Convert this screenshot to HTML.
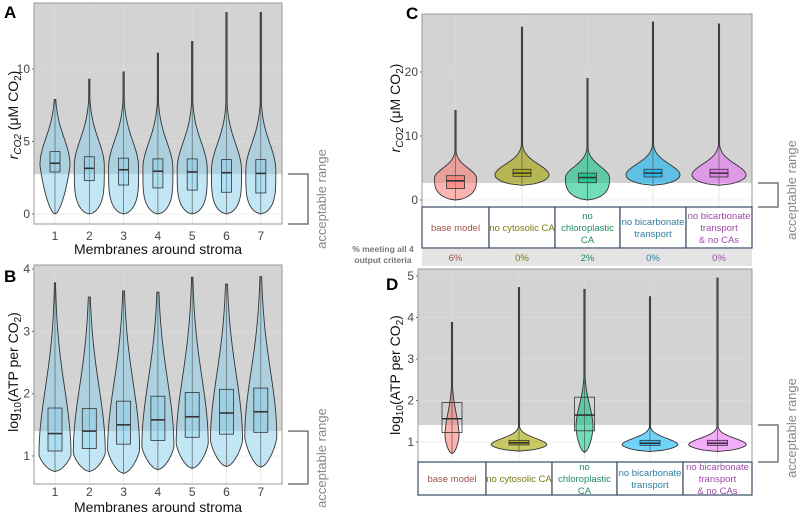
<!DOCTYPE html>
<html><head><meta charset="utf-8"><style>
html,body{margin:0;padding:0;background:#fff}
svg{display:block;font-family:"Liberation Sans",sans-serif}
</style></head><body>
<svg id="fig" width="800" height="516" viewBox="0 0 800 516" xmlns="http://www.w3.org/2000/svg"></svg>
<script>
// ---------- data ----------
// Panel A: r_CO2 by membranes
const aCats = ['1','2','3','4','5','6','7'];
const aMin = [0,0,0,0,0,0,0];
const aMax = [7.9,9.3,9.8,11.1,11.9,13.9,13.9];
const aQ1 = [2.9,2.3,2.0,1.8,1.65,1.5,1.45];
const aMed = [3.5,3.15,3.05,2.95,2.9,2.85,2.8];
const aQ3 = [4.3,3.95,3.85,3.8,3.8,3.75,3.75];
const aMode = [3.4,3.3,3.2,3.1,3.1,3.0,3.0];
const aTicks = [0,5,10];
// Panel B: log10 ATP per CO2 by membranes
const bMin = [0.75,0.75,0.72,0.78,0.8,0.83,0.82];
const bMax = [3.78,3.55,3.65,3.63,3.87,3.76,3.88];
const bQ1 = [1.08,1.12,1.19,1.25,1.3,1.35,1.38];
const bMed = [1.36,1.4,1.5,1.58,1.63,1.69,1.71];
const bQ3 = [1.77,1.76,1.88,1.96,2.02,2.07,2.09];
const bMode = [1.02,1.05,1.1,1.15,1.2,1.25,1.3];
const bTicks = [1,2,3,4];
// Panel C/D categories
const cCats = [['base model'],['no cytosolic CA'],['no','chloroplastic','CA'],['no bicarbonate','transport'],['no bicarbonate','transport','& no CAs']];
const cPct = ['6%','0%','2%','0%','0%'];
const cMin = [0,2.3,0,2.3,2.3];
const cMax = [14,27,19,27.8,27.5];
const cQ1 = [1.8,3.7,2.7,3.6,3.6];
const cMed = [3.0,4.2,3.5,4.2,4.2];
const cQ3 = [3.8,4.8,4.2,4.8,4.8];
const cMode = [3.4,3.9,3.5,3.9,3.9];
const cTicks = [0,10,20];
const dMin = [0.72,0.78,0.75,0.77,0.77];
const dMax = [3.88,4.72,4.68,4.5,4.95];
const dQ1 = [1.23,0.93,1.27,0.92,0.92];
const dMed = [1.56,0.98,1.65,0.97,0.97];
const dQ3 = [1.95,1.04,2.08,1.04,1.04];
const dMode = [1.15,0.93,1.35,0.93,0.93];
const dTicks = [1,2,3,4,5];

// ---------- helpers ----------
const NS='http://www.w3.org/2000/svg';
const svg=document.getElementById('fig');
function mk(tag,attrs,parent){const e=document.createElementNS(NS,tag);for(const k in attrs)e.setAttribute(k,attrs[k]);(parent||svg).appendChild(e);return e;}
function txt(s,attrs,parent){const e=mk('text',attrs,parent);e.textContent=s;return e;}
const colsFill=['rgba(248,118,109,0.55)','rgba(163,165,0,0.6)','rgba(0,191,125,0.55)','rgba(0,176,246,0.55)','rgba(231,107,243,0.55)'];
const colsText=['#a0524c','#7a7a10','#1f8a60','#2f7ea0','#a04aa8'];

function violin(g,cx,yf,mn,mx,mode,W,s,lowPow,fill){
  const pts=[],N=120;
  for(let i=0;i<=N;i++){
    const v=mn+(mx-mn)*i/N;let w;
    if(v<=mode){const t=(mode-v)/(mode-mn||1);w=W*Math.pow(Math.max(0,1-Math.pow(t,lowPow)),0.6);}
    else{const d=(v-mode)/s;w=Math.max(W*Math.exp(-d*d),0.6);}
    pts.push([w,yf(v)]);
  }
  let d='M'+(cx+pts[0][0])+','+pts[0][1];
  pts.forEach(p=>d+='L'+(cx+p[0]).toFixed(2)+','+p[1].toFixed(2));
  for(let i=pts.length-1;i>=0;i--)d+='L'+(cx-pts[i][0]).toFixed(2)+','+pts[i][1].toFixed(2);
  d+='Z';
  const p=mk('path',{d:d,fill:fill,stroke:'#333',"stroke-width":0.9},g);
  
  
}
function box(g,cx,yf,mn,mx,q1,med,q3,bw,fill){
  const l=mk('line',{x1:cx,x2:cx,y1:yf(mn),y2:yf(mx),stroke:'#444',"stroke-width":0.7,opacity:0.8},g);
  
  
  const r=mk('rect',{x:cx-bw,y:yf(q3),width:2*bw,height:yf(q1)-yf(q3),fill:fill,stroke:'#333',"stroke-width":0.8},g);
  
  
  const m=mk('line',{x1:cx-bw,x2:cx+bw,y1:yf(med),y2:yf(med),stroke:'#333',"stroke-width":1.6},g);
  
  
}
function frame(name,x0,x1,y0,y1,shadeY,yf,ticks,xs){
  const g=mk('g',{});
  
  
  mk('rect',{x:x0,y:y0,width:x1-x0,height:y1-y0,fill:'#fff'},g);
  mk('rect',{x:x0,y:y0,width:x1-x0,height:shadeY-y0,fill:'#d3d3d3'},g);
  ticks.forEach(t=>{const y=yf(t);mk('line',{x1:x0,x2:x1,y1:y,y2:y,stroke:y<shadeY?'#dcdcdc':'#ececec',"stroke-width":0.8},g);
    const tl=txt(String(t),{x:x0-4,y:y+4,"font-size":12,fill:'#444',"text-anchor":'end'},g);
    
    
    mk('line',{x1:x0-2,x2:x0,y1:y,y2:y,stroke:'#666'},g);});
  xs.forEach(x=>mk('line',{x1:x,x2:x,y1:y0,y2:y1,stroke:'#dcdcdc',"stroke-width":0.6},g));
  mk('rect',{x:x0,y:y0,width:x1-x0,height:y1-y0,fill:'none',stroke:'#999',"stroke-width":1},g);
  return g;
}
function bracket(x,y0,y1,ty){
  const g=mk('g',{});
  
  
  mk('path',{d:`M${x},${y0}H${x+20}V${y1}H${x}`,fill:'none',stroke:'#777',"stroke-width":1.5},g);
  const t=txt('acceptable range',{x:0,y:0,"font-size":13,fill:'#888',"text-anchor":'middle',transform:`translate(${x+38},${ty}) rotate(-90)`},g);
  
  
}
// parts: [text, dy, italic, small]
function ytitle(x,y,parts,name){
  const t=mk('text',{x:0,y:0,"font-size":14,fill:'#111',"text-anchor":'middle',transform:`translate(${x},${y}) rotate(-90)`});
  
  
  parts.forEach(p=>{const s=mk('tspan',{},t);s.textContent=p[0];if(p[1])s.setAttribute('dy',p[1]);if(p[3])s.setAttribute('font-size',10);if(p[2])s.setAttribute('font-style','italic');});
}
function plabel(s,x,y){const t=txt(s,{x:x,y:y,"font-size":17,"font-weight":'bold',fill:'#000'});}
const rParts=[['r','',1,0],['CO2','3',1,1],[' (μM CO','-3',0,0],['2','3',0,1],[')','-3',0,0]];
const lParts=[['log','',0,0],['10','3',0,1],['(ATP per CO','-3',0,0],['2','3',0,1],[')','-3',0,0]];

// ---------- Panel A ----------
const ax=i=>55+i*34.3;
const ay=v=>214-v*14.5;
const gA=frame('panel-a-plot',34,282,3,224,ay(2.75),ay,aTicks,aCats.map((c,i)=>ax(i)));
aCats.forEach((c,i)=>{
  violin(gA,ax(i),ay,aMin[i],aMax[i],aMode[i],15,2.6,i===0?1.2:4,'rgba(135,206,235,0.5)');
  box(gA,ax(i),ay,aMin[i],aMax[i],aQ1[i],aMed[i],aQ3[i],5,'rgba(135,206,235,0.35)');
  const t=txt(c,{x:ax(i),y:240,"font-size":12,fill:'#444',"text-anchor":'middle'});
  
  
});
const axT=txt('Membranes around stroma',{x:158,y:254,"font-size":14,fill:'#111',"text-anchor":'middle'});

ytitle(18,115,rParts,'y-axis-title-a');
bracket(288,174,224,199);
plabel('A',4,18);

// ---------- Panel B ----------
const by=v=>456-(v-1)*62.3;
const gB=frame('panel-b-plot',34,282,265,484,by(1.4),by,bTicks,aCats.map((c,i)=>ax(i)));
aCats.forEach((c,i)=>{
  violin(gB,ax(i),by,bMin[i],bMax[i],bMode[i],16,1.5,1.3,'rgba(135,206,235,0.5)');
  box(gB,ax(i),by,bMin[i],bMax[i],bQ1[i],bMed[i],bQ3[i],7,'rgba(135,206,235,0.35)');
  const t=txt(c,{x:ax(i),y:496,"font-size":12,fill:'#444',"text-anchor":'middle'});
  
  
});
const bxT=txt('Membranes around stroma',{x:158,y:512,"font-size":14,fill:'#111',"text-anchor":'middle'});

ytitle(18,372,lParts,'y-axis-title-b');
bracket(288,by(1.4),484,458);
plabel('B',4,282);

// ---------- Panel C ----------
const cEdges=[422,489,555,620,686,752];
const cx=i=>(cEdges[i]+cEdges[i+1])/2;
const cy=v=>200-v*6.4;
const cW=[21,27,22,27,27];
const gC=frame('panel-c-plot',422,752,14,207,183,cy,cTicks,cCats.map((c,i)=>cx(i)));
cCats.forEach((c,i)=>{
  violin(gC,cx(i),cy,cMin[i],cMax[i],cMode[i],cW[i],i===0?2.2:2.4,i===1||i>=3?2:3,colsFill[i]);
  box(gC,cx(i),cy,cMin[i],cMax[i],cQ1[i],cMed[i],cQ3[i],9,colsFill[i]);
});
ytitle(400,108,rParts,'y-axis-title-c');
bracket(758,183,207,190);
plabel('C',406,19);
function table(edges,y0,y1,name){
  const g=mk('g',{});
  
  
  cCats.forEach((c,i)=>{
    mk('rect',{x:edges[i],y:y0,width:edges[i+1]-edges[i],height:y1-y0,fill:'#fff',stroke:'#3a4a66',"stroke-width":1.2},g);
    const lh=12,cyy=(y0+y1)/2-(c.length-1)*lh/2+3.5;
    c.forEach((line,k)=>{const t=txt(line,{x:(edges[i]+edges[i+1])/2,y:cyy+k*lh,"font-size":9.5,fill:colsText[i],"text-anchor":'middle'},g);
      
      });
  });
}
table(cEdges,207,248,'panel-c-category-table');
mk('rect',{x:422,y:249,width:330,height:17,fill:'#e4e4e4'});
cPct.forEach((p,i)=>{const t=txt(p,{x:cx(i),y:261,"font-size":9.5,fill:colsText[i],"text-anchor":'middle'});
  
  });
const pl1=txt('% meeting all 4',{x:383,y:252,"font-size":8.5,"font-weight":'bold',fill:'#777',"text-anchor":'middle'});

const pl2=txt('output criteria',{x:383,y:263,"font-size":8.5,"font-weight":'bold',fill:'#777',"text-anchor":'middle'});


// ---------- Panel D ----------
const dEdges=[418,486,552,617,683,752];
const dx=i=>(dEdges[i]+dEdges[i+1])/2;
const dy=v=>442-(v-1)*41.5;
const dW=[7,28,8.5,28,29];
const dS=[0.75,0.22,0.75,0.22,0.22];
const gD=frame('panel-d-plot',418,752,269,462,425,dy,dTicks,cCats.map((c,i)=>dx(i)));
cCats.forEach((c,i)=>{
  violin(gD,dx(i),dy,dMin[i],dMax[i],dMode[i],dW[i],dS[i],1.5,colsFill[i]);
  const wide=(i===0||i===2);
  box(gD,dx(i),dy,dMin[i],dMax[i],dQ1[i],dMed[i],dQ3[i],10,wide?'none':colsFill[i]);
});
ytitle(400,375,lParts,'y-axis-title-d');
bracket(758,425,462,428);
plabel('D',386,290);
table(dEdges,462,495,'panel-d-category-table');
</script>
</body></html>
